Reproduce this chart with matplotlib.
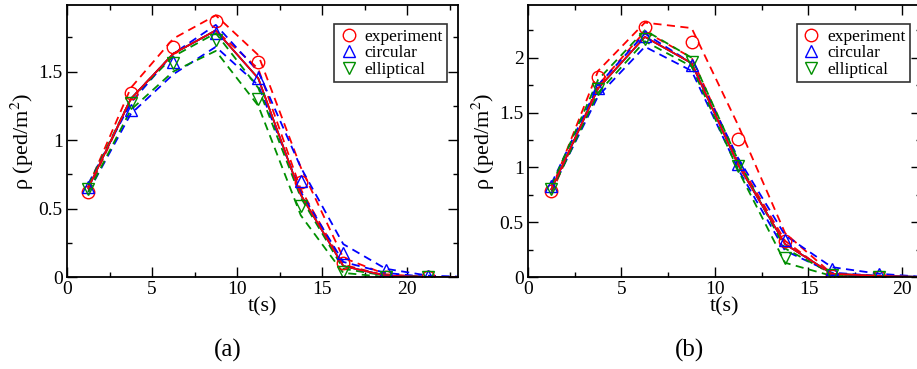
import numpy as np
import matplotlib
matplotlib.use('Agg')
import matplotlib.pyplot as plt
from matplotlib.ticker import MultipleLocator, FormatStrFormatter

plt.rcParams['font.family'] = ['Liberation Serif', 'DejaVu Serif']
plt.rcParams['mathtext.fontset'] = 'stix'

RED = '#ff0000'
BLUE = '#0000ff'
GREEN = '#008f00'

# panel (a)
t_a = [1.25, 3.75, 6.25, 8.75, 11.25, 13.75, 16.25, 18.75, 21.25, 23.75]
exp_a = [0.62, 1.34, 1.68, 1.87, 1.57, 0.69, 0.10, 0.0, 0.0, 0.0]
exp_a_hi = [0.66, 1.38, 1.74, 1.91, 1.62, 0.80, 0.14, 0.02, 0.0, 0.0]
exp_a_lo = [0.63, 1.30, 1.63, 1.80, 1.52, 0.64, 0.09, 0.01, 0.0, 0.0]
circ_a = [0.66, 1.22, 1.57, 1.78, 1.45, 0.70, 0.175, 0.05, 0.01, 0.0]
circ_a_hi = [0.68, 1.27, 1.63, 1.84, 1.50, 0.80, 0.24, 0.06, 0.01, 0.0]
circ_a_lo = [0.62, 1.19, 1.48, 1.68, 1.40, 0.62, 0.11, 0.03, 0.0, 0.0]
ell_a = [0.64, 1.27, 1.56, 1.73, 1.30, 0.52, 0.04, 0.0, 0.0, 0.0]
ell_a_hi = [0.67, 1.30, 1.61, 1.78, 1.38, 0.58, 0.06, 0.01, 0.0, 0.0]
ell_a_lo = [0.62, 1.22, 1.50, 1.65, 1.25, 0.45, 0.03, 0.0, 0.0, 0.0]
solid_a = [0.65, 1.30, 1.63, 1.80, 1.45, 0.60, 0.08, 0.01, 0.0, 0.0]

# panel (b)
t_b = [1.25, 3.75, 6.25, 8.75, 11.25, 13.75, 16.25, 18.75, 21.25]
exp_b = [0.78, 1.82, 2.28, 2.14, 1.26, 0.33, 0.01, 0.0, 0.0]
exp_b_hi = [0.80, 1.88, 2.32, 2.27, 1.38, 0.40, 0.03, 0.0, 0.0]
exp_b_lo = [0.76, 1.75, 2.24, 2.00, 1.05, 0.33, 0.01, 0.0, 0.0]
circ_b = [0.83, 1.72, 2.20, 1.93, 1.03, 0.34, 0.07, 0.03, 0.0]
circ_b_hi = [0.85, 1.75, 2.22, 1.95, 1.08, 0.38, 0.09, 0.03, 0.0]
circ_b_lo = [0.79, 1.65, 2.10, 1.88, 0.98, 0.24, 0.04, 0.01, 0.0]
ell_b = [0.80, 1.71, 2.17, 1.96, 1.01, 0.17, 0.02, 0.0, 0.0]
ell_b_hi = [0.83, 1.80, 2.25, 2.00, 1.06, 0.26, 0.03, 0.0, 0.0]
ell_b_lo = [0.78, 1.68, 2.15, 1.92, 0.97, 0.13, 0.01, 0.0, 0.0]
solid_b = [0.80, 1.72, 2.19, 1.95, 1.02, 0.30, 0.03, 0.01, 0.0]

fig = plt.figure(figsize=(9.17, 3.69), dpi=100)
ax_a = fig.add_axes([0.0731, 0.2493, 0.4264, 0.737])
ax_b = fig.add_axes([0.5758, 0.2493, 0.4282, 0.737])


def draw(ax, t, series, solid, xlim, ylim):
    dash = (0, (4.5, 3))
    for mean, hi, lo, col in series:
        ax.plot(t, hi, color=col, lw=1.3, linestyle=dash)
        ax.plot(t, lo, color=col, lw=1.3, linestyle=dash)
    for _, _, _, col in series[::-1]:
        ax.plot(t, solid, color=col, lw=1.2)
    markers = ['o', '^', 'v']
    labels = ['experiment', 'circular', 'elliptical']
    for (mean, hi, lo, col), m, lab in zip(series, markers, labels):
        ax.plot(t, mean, linestyle='none', marker=m, markersize=9,
                markerfacecolor='none', markeredgecolor=col,
                markeredgewidth=1.0, label=lab)
    ax.set_xlim(*xlim)
    ax.set_ylim(*ylim)
    ax.xaxis.set_major_locator(MultipleLocator(5))
    ax.xaxis.set_minor_locator(MultipleLocator(2.5))
    ax.yaxis.set_major_locator(MultipleLocator(0.5))
    ax.yaxis.set_minor_locator(MultipleLocator(0.25))
    ax.yaxis.set_major_formatter(FormatStrFormatter('%g'))
    ax.tick_params(which='both', direction='in', top=True, right=True,
                   labelsize=14, width=1.0)
    ax.tick_params(which='major', length=7, pad=3)
    ax.tick_params(which='minor', length=3.5)
    for s in ax.spines.values():
        s.set_linewidth(1.3)
    ax.set_xlabel('t(s)', fontsize=16, labelpad=-1)
    ax.set_ylabel(r'ρ (ped/m$^2$)', fontsize=16, labelpad=2)
    leg = ax.legend(loc='upper right', bbox_to_anchor=(0.972, 0.93),
                    fontsize=12.5, frameon=True, fancybox=False,
                    borderaxespad=0, handletextpad=0.3, labelspacing=0.02,
                    borderpad=0.25, handlelength=1.2)
    leg.get_frame().set_edgecolor('black')
    leg.get_frame().set_linewidth(1.2)


draw(ax_a, t_a,
     [(exp_a, exp_a_hi, exp_a_lo, RED),
      (circ_a, circ_a_hi, circ_a_lo, BLUE),
      (ell_a, ell_a_hi, ell_a_lo, GREEN)],
     solid_a, (0, 23), (0, 1.985))
draw(ax_b, t_b,
     [(exp_b, exp_b_hi, exp_b_lo, RED),
      (circ_b, circ_b_hi, circ_b_lo, BLUE),
      (ell_b, ell_b_hi, ell_b_lo, GREEN)],
     solid_b, (0, 21), (0, 2.48))

fig.text(228 / 917, 1 - 350 / 369, '(a)', fontsize=18, ha='center', va='center')
fig.text(690 / 917, 1 - 350 / 369, '(b)', fontsize=18, ha='center', va='center')

fig.savefig('out.png', dpi=100)
